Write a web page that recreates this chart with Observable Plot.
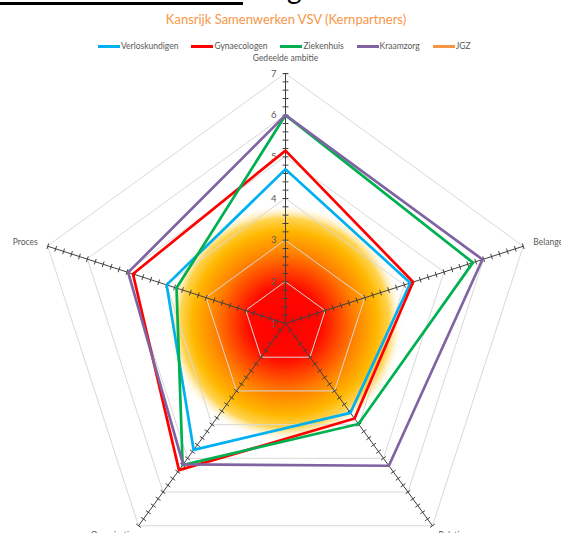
<!DOCTYPE html>
<html>
<head>
<meta charset="utf-8">
<script src="https://cdn.jsdelivr.net/npm/d3@7"></script>
<script src="https://cdn.jsdelivr.net/npm/@observablehq/plot@0.6"></script>
<style>
  body { margin: 0; background: #fff; }
  #wrap { position: relative; width: 561px; height: 533px; overflow: hidden; font-family: Lato, "Open Sans", sans-serif; }
  #chart { position: absolute; left: 0; top: 0; }
  #bar { position: absolute; left: 0; top: 2px; width: 243px; height: 3px; background: #000; }
  #frag { position: absolute; left: 287px; top: -26px; font-size: 28px; color: #000; line-height: 28px; }
  #title { position: absolute; left: 0; width: 572px; top: 11px; text-align: center; color: #F79646; font-size: 13px; }
  #legend { position: absolute; left: 98px; top: 41px; display: flex; align-items: center; font-size: 8.5px; color: #595959; }
  #legend .item { display: flex; align-items: center; margin-right: 13px; }
  #legend .sw { width: 22px; height: 3px; margin-right: 1px; }
</style>
</head>
<body>
<div id="wrap">
  <div id="chart"></div>
  <div id="bar"></div>
  <div id="frag">g</div>
  <div id="title">Kansrijk Samenwerken VSV (Kernpartners)</div>
  <div id="legend"></div>
</div>
<script>
// ---- data ----
const axes = ["Gedeelde ambitie", "Belangen", "Relatie", "Organisatie", "Proces"];
const seriesNames = ["Verloskundigen", "Gynaecologen", "Ziekenhuis", "Kraamzorg", "JGZ"];
const seriesColors = ["#00B0F0", "#FF0000", "#00B050", "#8064A2", "#F79646"];
const verloskundigen = [4.7, 4.15, 3.65, 4.75, 4.0];
const gynaecologen   = [5.15, 4.22, 3.82, 5.35, 4.85];
const ziekenhuis     = [6.0, 5.73, 3.98, 5.2, 3.75];
const kraamzorg      = [6.0, 5.97, 5.22, 5.18, 4.97];
const jgz            = [];
const tickLabels = [1, 2, 3, 4, 5, 6, 7];
const ringLevels = [2, 3, 4, 5, 6, 7];
const minV = 1, maxV = 7, minorStep = 0.2;
const blobValue = 3.85;

// ---- projection helpers ----
const n = axes.length;
const ang = i => i * 2 * Math.PI / n;
const px = (v, i) => (v - minV) * Math.sin(ang(i));
const py = (v, i) => (v - minV) * Math.cos(ang(i));

const seriesValues = [verloskundigen, gynaecologen, ziekenhuis, kraamzorg, jgz];
const rows = seriesNames.flatMap((s, k) => seriesValues[k].map((v, i) => ({series: s, axis: axes[i], value: v, x: px(v, i), y: py(v, i)})));
const rings = ringLevels.flatMap(level => axes.map((a, i) => ({level, x: px(level, i), y: py(level, i)})));
const spokes = axes.map((a, i) => ({axis: a, x1: 0, y1: 0, x2: px(maxV, i), y2: py(maxV, i)}));
const tickHalf = 0.07;
const minorTicks = axes.flatMap((a, i) => {
  const out = [];
  const steps = Math.round((maxV - minV) / minorStep);
  for (let k = 1; k <= steps; k++) {
    const v = minV + k * minorStep;
    const cx = px(v, i), cy = py(v, i);
    const ux = Math.cos(ang(i)) * tickHalf, uy = -Math.sin(ang(i)) * tickHalf;
    out.push({x1: cx - ux, y1: cy - uy, x2: cx + ux, y2: cy + uy});
  }
  return out;
});
const axisLabel = i => ({text: axes[i], x: px(maxV, i), y: py(maxV, i)});

// ---- gradient blob mark ----
function blobMark(index, scales) {
  const g = d3.create("svg:g");
  const grad = g.append("defs").append("radialGradient").attr("id", "blobGrad");
  [[0, "#ff0000", 1], [0.3, "#ff0800", 1], [0.6, "#ff8400", 1], [0.78, "#ffb800", 1], [0.88, "#ffcc30", 0.85], [1, "#ffffff", 0]]
    .forEach(([o, c, op]) => grad.append("stop").attr("offset", o).attr("stop-color", c).attr("stop-opacity", op));
  const cx = scales.x(0), cy = scales.y(0);
  const r = scales.x(blobValue - minV) - scales.x(0);
  g.append("circle").attr("cx", cx).attr("cy", cy).attr("r", r).attr("fill", "url(#blobGrad)");
  return g.node();
}

const unit = 250 / 6;
const plot = Plot.plot({
  width: 561,
  height: 533,
  margin: 0,
  x: {domain: [-285 / unit, (561 - 285) / unit], range: [0, 561], axis: null},
  y: {domain: [(323 - 533) / unit, 323 / unit], range: [533, 0], axis: null},
  color: {domain: seriesNames, range: seriesColors},
  style: {fontFamily: "Lato, 'Open Sans', sans-serif", background: "transparent"},
  marks: [
    blobMark,
    Plot.line(rings, {x: "x", y: "y", z: "level", curve: "linear-closed", stroke: "#d9d9d9", strokeWidth: 1}),
    Plot.link(spokes, {x1: "x1", y1: "y1", x2: "x2", y2: "y2", stroke: "#404040", strokeWidth: 1}),
    Plot.link(minorTicks, {x1: "x1", y1: "y1", x2: "x2", y2: "y2", stroke: "#404040", strokeWidth: 1}),
    Plot.text(tickLabels, {x: v => px(v, 0), y: v => py(v, 0), text: d => String(d), dx: -9, textAnchor: "end", fill: "#595959", fontSize: 9.5}),
    Plot.line(rows, {x: "x", y: "y", z: "series", stroke: "series", curve: "linear-closed", strokeWidth: 2.7}),
    Plot.text([axisLabel(0)], {x: "x", y: "y", text: "text", dy: -15, textAnchor: "middle", fill: "#595959", fontSize: 8.5}),
    Plot.text([axisLabel(1)], {x: "x", y: "y", text: "text", dx: 10, dy: -4, textAnchor: "start", fill: "#595959", fontSize: 8.5}),
    Plot.text([axisLabel(2)], {x: "x", y: "y", text: "text", dx: 6, dy: 10, textAnchor: "start", fill: "#595959", fontSize: 8.5}),
    Plot.text([axisLabel(3)], {x: "x", y: "y", text: "text", dx: -5, dy: 10, textAnchor: "end", fill: "#595959", fontSize: 8.5}),
    Plot.text([axisLabel(4)], {x: "x", y: "y", text: "text", dx: -10, dy: -4, textAnchor: "end", fill: "#595959", fontSize: 8.5})
  ]
});
document.getElementById("chart").appendChild(plot);

// ---- legend ----
const legend = document.getElementById("legend");
seriesNames.forEach((s, k) => {
  const item = document.createElement("div");
  item.className = "item";
  const sw = document.createElement("div");
  sw.className = "sw";
  sw.style.background = seriesColors[k];
  const t = document.createElement("span");
  t.textContent = s;
  item.appendChild(sw);
  item.appendChild(t);
  legend.appendChild(item);
});
</script>
</body>
</html>
